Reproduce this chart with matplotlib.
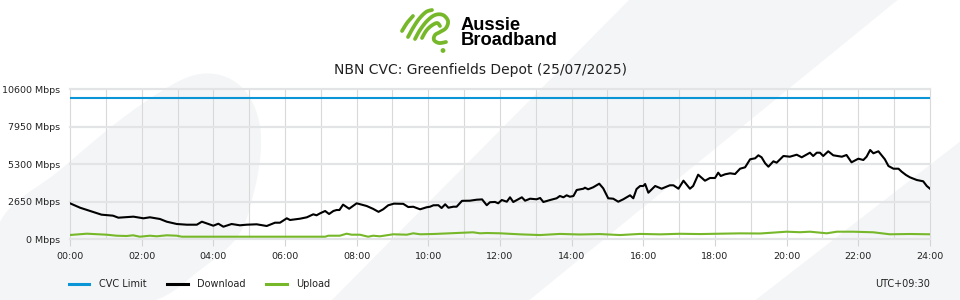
import numpy as np
import matplotlib
matplotlib.use('Agg')
import matplotlib.pyplot as plt
from matplotlib.patches import Polygon, Circle
from matplotlib.lines import Line2D
from matplotlib.transforms import Affine2D
from matplotlib.ticker import MultipleLocator, FixedLocator

# ---------------- data ----------------
title = "NBN CVC: Greenfields Depot (25/07/2025)"
timezone_label = "UTC+09:30"
cvc_limit = 10000
y_ticks = [0, 2650, 5300, 7950, 10600]
x_ticks = list(range(0, 25, 2))

download_hours = [0.00, 0.28, 0.56, 0.88, 1.20, 1.35, 1.77, 2.05, 2.23, 2.51, 2.70, 2.98,
                  3.26, 3.54, 3.68, 4.00, 4.14, 4.28, 4.51, 4.74, 4.93, 5.21, 5.49, 5.72,
                  5.86, 6.05, 6.14, 6.42, 6.61, 6.79, 6.88, 6.98, 7.12, 7.23, 7.35, 7.44,
                  7.52, 7.62, 7.79, 8.00, 8.28, 8.46, 8.61, 8.74, 8.88, 9.04, 9.30, 9.44,
                  9.58, 9.77, 9.95, 10.05, 10.14, 10.28, 10.37, 10.47, 10.56, 10.70, 10.79,
                  10.94, 11.16, 11.35, 11.50, 11.63, 11.72, 11.86, 11.95, 12.05, 12.19,
                  12.28, 12.37, 12.61, 12.70, 12.84, 13.02, 13.12, 13.21, 13.40, 13.58,
                  13.67, 13.77, 13.86, 13.95, 14.05, 14.14, 14.33, 14.37, 14.46, 14.60,
                  14.77, 14.88, 15.02, 15.16, 15.30, 15.44, 15.63, 15.72, 15.81, 15.91,
                  16.00, 16.05, 16.14, 16.33, 16.51, 16.74, 16.84, 16.98, 17.12, 17.30,
                  17.39, 17.53, 17.72, 17.86, 18.00, 18.09, 18.16, 18.28, 18.42, 18.56,
                  18.70, 18.84, 18.98, 19.12, 19.21, 19.30, 19.40, 19.49, 19.63, 19.72,
                  19.91, 20.09, 20.28, 20.42, 20.65, 20.74, 20.84, 20.93, 21.02, 21.16,
                  21.30, 21.54, 21.67, 21.81, 22.00, 22.14, 22.23, 22.33, 22.42, 22.56,
                  22.74, 22.84, 22.98, 23.12, 23.21, 23.33, 23.44, 23.63, 23.81, 23.91, 24.00]
download_mbps = [2544, 2233, 2000, 1740, 1670, 1527, 1600, 1484, 1555, 1435, 1244, 1081,
                 1032, 1032, 1244, 961, 1102, 890, 1081, 989, 1032, 1060, 940, 1173,
                 1173, 1484, 1364, 1456, 1555, 1767, 1696, 1837, 2000, 1788, 2000, 2070,
                 2070, 2450, 2160, 2544, 2353, 2150, 1940, 2120, 2403, 2520, 2505, 2280,
                 2300, 2120, 2261, 2304, 2403, 2410, 2210, 2473, 2233, 2304, 2304,
                 2718, 2728, 2798, 2820, 2410, 2620, 2640, 2544, 2777, 2657,
                 2968, 2636, 2968, 2728, 2869, 2827, 2919, 2636, 2777, 2898,
                 3060, 2968, 3110, 3010, 3060, 3484, 3576, 3646, 3534, 3675,
                 3929, 3604, 2898, 2869, 2657, 2827, 3110, 2898, 3550, 3767,
                 3767, 3908, 3293, 3767, 3576, 3816, 3816, 3576, 4141, 3576,
                 3767, 4565, 4141, 4332, 4332, 4707, 4473, 4593, 4664, 4614,
                 4989, 5088, 5654, 5724, 5936, 5795, 5371, 5131, 5512, 5413,
                 5887, 5837, 5978, 5795, 6120, 5887, 6120, 6120, 5887, 6219,
                 5936, 5837, 5957, 5441, 5696, 5604, 5837, 6311, 6077, 6219,
                 5654, 5180, 4989, 4989, 4777, 4544, 4381, 4191, 4099, 3767, 3576]

upload_hours = [0.00, 0.47, 1.02, 1.30, 1.58, 1.76, 1.95, 2.23, 2.42, 2.70, 2.98, 3.12,
                5.02, 7.12, 7.21, 7.53, 7.72, 7.86, 8.09, 8.32, 8.46, 8.65, 9.02, 9.40,
                9.58, 9.77, 10.14, 10.60, 10.98, 11.25, 11.44, 11.63, 12.00, 12.56, 13.12,
                13.67, 14.23, 14.79, 15.35, 15.91, 16.47, 17.02, 17.58, 18.14, 18.70,
                19.26, 20.00, 20.37, 20.65, 21.12, 21.40, 21.86, 22.42, 22.88, 23.44, 24.00]
upload_mbps = [304, 396, 325, 254, 233, 283, 184, 254, 212, 283, 254, 184,
               184, 184, 254, 254, 396, 325, 325, 184, 254, 212, 354, 325,
               424, 354, 375, 424, 466, 495, 424, 445, 424, 350, 300,
               380, 340, 370, 300, 380, 350, 390, 370, 396, 420,
               410, 537, 500, 537, 424, 537, 537, 495, 354, 375, 354]

# ---------------- styling ----------------
W, H = 960, 300
BLUE = '#0a96d6'
GREEN = '#76b82a'
BG_SHAPE = '#f4f5f7'
TEXT = '#222222'

fig = plt.figure(figsize=(W / 100, H / 100), dpi=100)
fig.patch.set_facecolor('white')
px = Affine2D().scale(1 / W, -1 / H).translate(0, 1) + fig.transFigure


def catmull(pts, closed=False, n=10):
    p = np.asarray(pts, float)
    if closed:
        p = np.vstack([p[-1], p, p[0], p[1]])
    else:
        p = np.vstack([p[0], p, p[-1]])
    out = []
    for i in range(1, len(p) - 2):
        p0, p1, p2, p3 = p[i - 1], p[i], p[i + 1], p[i + 2]
        for t in np.linspace(0, 1, n, endpoint=False):
            t2, t3 = t * t, t * t * t
            out.append(0.5 * ((2 * p1) + (-p0 + p2) * t + (2 * p0 - 5 * p1 + 4 * p2 - p3) * t2
                              + (-p0 + 3 * p1 - 3 * p2 + p3) * t3))
    if not closed:
        out.append(p[-2])
    return np.array(out)


# background decorative shapes
blob = catmull([(0, 300), (0, 222), (60, 170), (120, 120), (170, 86), (200, 74), (226, 77),
                (246, 92), (258, 117), (261, 148), (254, 192), (238, 236), (200, 270),
                (150, 302), (60, 310)], closed=True)
fig.add_artist(Polygon(blob, closed=True, transform=px, facecolor=BG_SHAPE,
                       edgecolor='none', zorder=0))
fig.add_artist(Polygon([(631, -2), (900, -2), (527, 302), (330, 302)], closed=True,
                       transform=px, facecolor=BG_SHAPE, edgecolor='none', zorder=0))
fig.add_artist(Polygon([(753, 302), (962, 140), (962, 302)], closed=True,
                       transform=px, facecolor=BG_SHAPE, edgecolor='none', zorder=0))

# logo
strokes = [
    [(402, 31), (407, 23), (413, 16)],
    [(408, 37), (413, 28), (419, 19), (426, 12), (432, 10)],
    [(415, 39), (420, 30), (427, 21), (435, 15), (443, 15), (448, 21), (446, 28),
     (440, 32), (435, 35), (434, 40), (439, 43), (446, 42)],
    [(422, 38), (426, 31), (431, 26), (437, 23), (440, 26)],
]
for s in strokes:
    c = catmull(s, n=8)
    fig.add_artist(Line2D(c[:, 0], c[:, 1], transform=px, color=GREEN, lw=2.7,
                          solid_capstyle='round', solid_joinstyle='round', zorder=2))
fig.add_artist(Circle((443, 50.5), 2.4, transform=px, facecolor=GREEN, edgecolor='none',
                      zorder=2))
fig.text(461 / W, 1 - 16.5 / H, 'Aussie\nBroadband', fontfamily='Liberation Sans',
         fontweight='bold', fontsize=13.2, color='black', ha='left', va='top',
         linespacing=0.92)

# title
fig.text(0.5, 1 - 70 / H, title, ha='center', va='center', fontsize=10, color=TEXT)

# axes
ax = fig.add_axes([70 / W, 1 - 239.3 / H, 860 / W, 150 / H])
ax.set_facecolor('none')
ax.set_xlim(0, 24)
ax.set_ylim(0, 10600)
for sp in ax.spines.values():
    sp.set_visible(False)

ax.yaxis.set_major_locator(FixedLocator(y_ticks))
ax.set_yticklabels([f"{v} Mbps" for v in y_ticks])
ax.xaxis.set_major_locator(FixedLocator(x_ticks))
ax.set_xticklabels([f"{h:02d}:00" for h in x_ticks])
ax.xaxis.set_minor_locator(MultipleLocator(1))

ax.tick_params(axis='y', length=0, pad=7, labelsize=6.8, labelcolor=TEXT)
ax.tick_params(axis='x', which='major', length=5, width=0.8, color='#d4d4d4', pad=4,
               labelsize=6.8, labelcolor=TEXT)
ax.tick_params(axis='x', which='minor', length=0)

ax.grid(axis='y', color='#e3e4e6', lw=1.6, zorder=0)
ax.grid(axis='x', which='both', color='#d9d9d9', lw=0.8, zorder=0)
for gl in ax.get_ygridlines() + ax.get_xgridlines():
    gl.set_clip_on(False)
ax.set_axisbelow(True)

ax.axhline(cvc_limit, color=BLUE, lw=1.5, zorder=3)
ax.plot(download_hours, download_mbps, color='black', lw=1.5, zorder=4,
        solid_joinstyle='round')
ax.plot(upload_hours, upload_mbps, color=GREEN, lw=1.5, zorder=3)

handles = [Line2D([], [], color=BLUE, lw=2.2),
           Line2D([], [], color='black', lw=2.2),
           Line2D([], [], color=GREEN, lw=2.2)]
fig.legend(handles, ['CVC Limit', 'Download', 'Upload'], loc='center left',
           bbox_to_anchor=(69 / W, 1 - 284 / H), ncol=3, frameon=False, fontsize=7,
           handlelength=2.1, handletextpad=1.0, columnspacing=2.1, borderaxespad=0,
           borderpad=0, labelcolor=TEXT)

fig.text(930 / W, 1 - 284 / H, timezone_label, ha='right', va='center', fontsize=7,
         color=TEXT)

fig.savefig('out.png', dpi=100, facecolor='white')
